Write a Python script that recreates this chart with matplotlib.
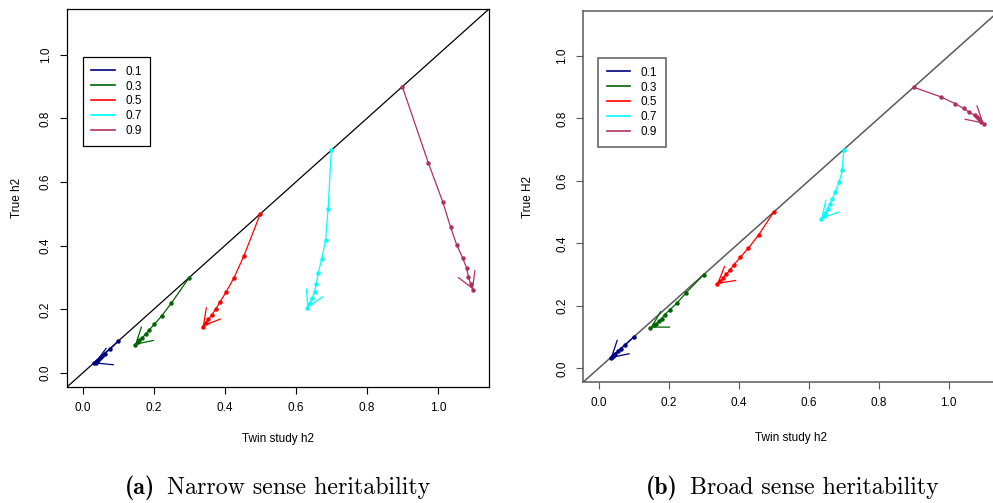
import matplotlib
matplotlib.use('Agg')
import matplotlib.pyplot as plt
from matplotlib.lines import Line2D

# h2 levels simulated and the colour used for each trajectory
levels = ['0.1', '0.3', '0.5', '0.7', '0.9']
colours = ['#000080', '#006400', '#ff0000', '#00ffff', '#b03060']

# narrow sense: twin study estimate vs true h2
narrow_twin = [
    [0.100, 0.076, 0.062, 0.055, 0.048, 0.044, 0.040, 0.038, 0.037, 0.033],
    [0.300, 0.250, 0.223, 0.202, 0.187, 0.177, 0.168, 0.160, 0.155, 0.147],
    [0.500, 0.454, 0.426, 0.404, 0.387, 0.375, 0.364, 0.354, 0.346, 0.338],
    [0.700, 0.691, 0.684, 0.673, 0.663, 0.658, 0.653, 0.646, 0.639, 0.632],
    [0.900, 0.973, 1.014, 1.036, 1.053, 1.070, 1.081, 1.086, 1.092, 1.099],
]
narrow_true = [
    [0.100, 0.074, 0.061, 0.053, 0.048, 0.042, 0.038, 0.035, 0.032, 0.030],
    [0.300, 0.220, 0.180, 0.153, 0.135, 0.122, 0.111, 0.103, 0.096, 0.088],
    [0.500, 0.368, 0.299, 0.255, 0.224, 0.201, 0.183, 0.169, 0.157, 0.146],
    [0.700, 0.514, 0.419, 0.357, 0.313, 0.280, 0.256, 0.235, 0.220, 0.204],
    [0.900, 0.661, 0.537, 0.458, 0.403, 0.361, 0.330, 0.303, 0.281, 0.262],
]

# broad sense: twin study estimate vs true H2
broad_twin = [
    [0.100, 0.076, 0.063, 0.055, 0.048, 0.045, 0.042, 0.040, 0.038, 0.034],
    [0.300, 0.250, 0.223, 0.204, 0.189, 0.180, 0.171, 0.165, 0.159, 0.148],
    [0.500, 0.457, 0.428, 0.405, 0.387, 0.376, 0.364, 0.355, 0.347, 0.338],
    [0.700, 0.696, 0.687, 0.676, 0.668, 0.661, 0.654, 0.648, 0.644, 0.636],
    [0.900, 0.978, 1.019, 1.043, 1.059, 1.074, 1.080, 1.087, 1.093, 1.100],
]
broad_true = [
    [0.100, 0.075, 0.062, 0.054, 0.047, 0.043, 0.040, 0.038, 0.036, 0.032],
    [0.300, 0.242, 0.208, 0.188, 0.172, 0.159, 0.150, 0.143, 0.137, 0.130],
    [0.500, 0.427, 0.385, 0.356, 0.332, 0.315, 0.301, 0.288, 0.278, 0.270],
    [0.700, 0.634, 0.595, 0.565, 0.543, 0.525, 0.511, 0.498, 0.489, 0.479],
    [0.900, 0.869, 0.847, 0.832, 0.820, 0.810, 0.804, 0.797, 0.790, 0.783],
]

ticks = [0.0, 0.2, 0.4, 0.6, 0.8, 1.0]
tick_labels = ['0.0', '0.2', '0.4', '0.6', '0.8', '1.0']
lims = (-0.044, 1.144)

plt.rcParams['font.family'] = ['Liberation Sans', 'DejaVu Sans']
plt.rcParams['font.size'] = 8.5

W, H = 993, 503
fig = plt.figure(figsize=(W / 100, H / 100), dpi=100)


def px_box(left, top, right, bottom):
    return [left / W, 1 - bottom / H, (right - left) / W, (bottom - top) / H]


def panel(rect, twin, true, ylabel, frame, flw, legend_xy, xlab_y, ylab_x):
    ax = fig.add_axes(rect)
    ax.set_xlim(lims)
    ax.set_ylim(lims)
    ax.axline((0, 0), slope=1, color=frame, lw=flw, zorder=1)
    for xs, ys, c in zip(twin, true, colours):
        ax.plot(xs, ys, color=c, lw=0.9, marker='o', ms=3.2, mew=0, zorder=2)
        ax.annotate('', xy=(xs[-1], ys[-1]), xytext=(xs[-2], ys[-2]),
                    arrowprops=dict(arrowstyle='->,head_length=11.3,head_width=6.5',
                                    mutation_scale=1, color=c, lw=0.9,
                                    shrinkA=0, shrinkB=0))
    for s in ax.spines.values():
        s.set_color(frame)
        s.set_linewidth(flw)
    ax.set_xticks(ticks, tick_labels)
    ax.set_yticks(ticks, tick_labels)
    ax.tick_params(direction='out', length=5, width=0.8, color=frame, pad=6)
    plt.setp(ax.get_yticklabels(), rotation=90, va='center')

    ax.set_xlabel('Twin study h2')
    ax.set_ylabel(ylabel)
    bl = ax.transAxes.inverted()
    ax.xaxis.set_label_coords(0.5, bl.transform((0, H - xlab_y))[1])
    ax.yaxis.set_label_coords(bl.transform((ylab_x, 0))[0], 0.5)
    ax.xaxis.label.set_va('center')
    ax.yaxis.label.set_va('center')

    handles = [Line2D([], [], color=c, lw=1.2) for c in colours]
    leg = ax.legend(handles, levels, loc='upper left',
                    bbox_to_anchor=(legend_xy[0] / W, 1 - legend_xy[1] / H),
                    bbox_transform=fig.transFigure, borderaxespad=0,
                    fancybox=False, framealpha=1, edgecolor=frame,
                    handlelength=2.0, handletextpad=0.9, borderpad=0.7,
                    labelspacing=0.25, fontsize=8.5)
    leg.get_frame().set_linewidth(flw)
    return ax


panel(px_box(67, 9, 489, 387), narrow_twin, narrow_true, 'True h2',
      'black', 0.9, (82.7, 57.3), 439, 17)
panel(px_box(583.3, 11, 999, 382), broad_twin, broad_true, 'True H2',
      '#5a5a5a', 1.1, (598.3, 58.3), 438, 528)

# subfigure captions: bold tag followed by roman text, centred as a group
renderer = fig.canvas.get_renderer()
base_y = 1 - 494 / H
for cx, tag, text in [(277.5, '(a)', 'Narrow sense heritability'),
                      (792, '(b)', 'Broad sense heritability')]:
    t1 = fig.text(0, base_y, tag, fontfamily='cmb10', fontsize=17.2, va='baseline')
    t2 = fig.text(0, base_y, text, fontfamily='cmr10', fontsize=17.2, va='baseline')
    w1 = t1.get_window_extent(renderer).width
    w2 = t2.get_window_extent(renderer).width
    gap = 12
    start = cx - (w1 + gap + w2) / 2
    t1.set_x(start / W)
    t2.set_x((start + w1 + gap) / W)

fig.savefig('out.png', dpi=100)
